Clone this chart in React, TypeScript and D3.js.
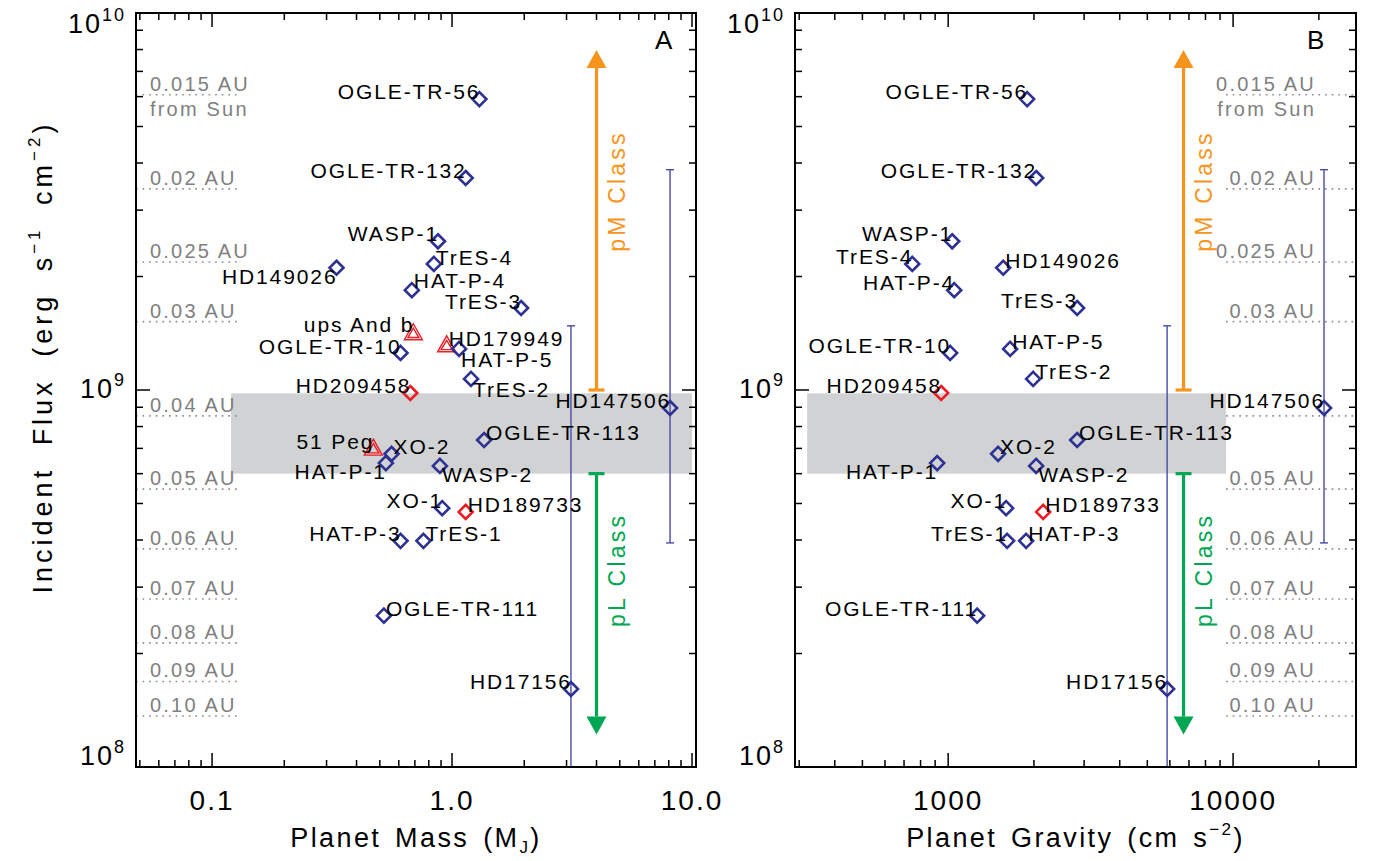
import React from "react";
import * as d3 from "d3";

// ---------- data ----------
const planetNames = [
  "OGLE-TR-56", "OGLE-TR-132", "WASP-1", "TrES-4", "HD149026", "HAT-P-4", "TrES-3",
  "ups And b", "HD179949", "HAT-P-5", "OGLE-TR-10", "TrES-2", "HD209458", "HD147506",
  "OGLE-TR-113", "51 Peg", "XO-2", "HAT-P-1", "WASP-2", "XO-1", "HD189733",
  "HAT-P-3", "TrES-1", "OGLE-TR-111", "HD17156",
];
const planetMass = [
  1.30, 1.14, 0.874, 0.84, 0.33, 0.68, 1.94,
  0.69, 0.95, 1.07, 0.61, 1.20, 0.67, 8.1,
  1.36, 0.47, 0.56, 0.53, 0.89, 0.91, 1.14,
  0.61, 0.76, 0.52, 3.13,
];
const planetGravity: (number | null)[] = [
  1893, 2036, 1033, 748, 1560, 1050, 2835,
  null, null, 1650, 1016, 1987, 945, 20850,
  2835, null, 1497, 915, 2036, 1597, 2155,
  1878, 1610, 1264, 5867,
];
const planetFlux = [
  5.91e9, 3.65e9, 2.48e9, 2.16e9, 2.11e9, 1.84e9, 1.65e9,
  1.41e9, 1.31e9, 1.285e9, 1.254e9, 1.07e9, 0.982e9, 8.96e8,
  7.37e8, 6.97e8, 6.77e8, 6.40e8, 6.29e8, 4.86e8, 4.75e8,
  3.98e8, 3.98e8, 2.52e8, 1.61e8,
];
// "d" = transiting (blue diamond), "r" = red diamond, "t" = red triangle (M sin i)
const planetMarker = [
  "d", "d", "d", "d", "d", "d", "d",
  "t", "t", "d", "d", "d", "r", "d",
  "d", "t", "d", "d", "d", "d", "r",
  "d", "d", "d", "d",
];

// flux range bars (eccentric orbits)
const barNames = ["HD147506", "HD17156"];
const barMass = [8.1, 3.13];
const barGravity = [20850, 5867];
const barLow = [3.93e8, 5e7];
const barHigh = [3.84e9, 1.48e9];

// orbital distance reference lines
const auLabels = ["0.015 AU", "0.02 AU", "0.025 AU", "0.03 AU", "0.04 AU", "0.05 AU",
  "0.06 AU", "0.07 AU", "0.08 AU", "0.09 AU", "0.10 AU"];
const auFlux = [6.07e9, 3.415e9, 2.186e9, 1.518e9, 8.54e8, 5.46e8,
  3.79e8, 2.79e8, 2.134e8, 1.686e8, 1.366e8];
// labels shown in panel B (0.04 AU hidden behind HD147506)
const auShownB = [true, true, true, true, false, true, true, true, true, true, true];

// class arrows
const classNames = ["pM Class", "pL Class"];
const classFrom = [1.0e9, 6.0e8];
const classTo = [7.98e9, 1.22e8];
const classMass = 4.0;
const classGravity = 6700;

// transition band
const bandFlux = [6.0e8, 9.8e8];
const bandMass = [0.12, 10.0];
const bandGravity = [320, 9450];

// tick labels
const yTickValues = [1e8, 1e9, 1e10];
const yTickExps = ["8", "9", "10"];
const xTickValuesA = [0.1, 1, 10];
const xTickLabelsA = ["0.1", "1.0", "10.0"];
const xTickValuesB = [1000, 10000];
const xTickLabelsB = ["1000", "10000"];

// label placement (anchor side, baseline offset)
const labelPlaceA: Record<string, [string, number]> = {
  "OGLE-TR-56": ["end", 0], "OGLE-TR-132": ["end", 0], "WASP-1": ["end", 0], "TrES-4": ["start", 1],
  "HD149026": ["end", 16], "HAT-P-4": ["start", -2], "TrES-3": ["end", 1], "ups And b": ["end", -2],
  "HD179949": ["start", 0], "HAT-P-5": ["start", 18], "OGLE-TR-10": ["end", 1], "TrES-2": ["start", 18],
  "HD209458": ["end", 0], "HD147506": ["end", 0], "OGLE-TR-113": ["start", 0], "51 Peg": ["end", 0],
  "XO-2": ["start", 0], "HAT-P-1": ["end", 16], "WASP-2": ["start", 16], "XO-1": ["end", 0],
  "HD189733": ["start", 0], "HAT-P-3": ["end", 0], "TrES-1": ["start", 0], "OGLE-TR-111": ["start", 0],
  "HD17156": ["end", 0],
};
const labelPlaceB: Record<string, [string, number]> = {
  "OGLE-TR-56": ["end", 0], "OGLE-TR-132": ["end", 0], "WASP-1": ["end", 0], "TrES-4": ["end", 0],
  "HD149026": ["start", 0], "HAT-P-4": ["end", 0], "TrES-3": ["end", 0], "OGLE-TR-10": ["end", 0],
  "HAT-P-5": ["start", 0], "TrES-2": ["start", 0], "HD209458": ["end", 0], "HD147506": ["end", 0],
  "OGLE-TR-113": ["start", 0], "XO-2": ["start", 0], "HAT-P-1": ["end", 16], "WASP-2": ["start", 16],
  "XO-1": ["end", 0], "HD189733": ["start", 0], "TrES-1": ["end", 0], "HAT-P-3": ["start", 0],
  "OGLE-TR-111": ["end", 0], "HD17156": ["end", 0],
};

// ---------- styles ----------
const FONT = "'Liberation Sans', Arial, Helvetica, sans-serif";
const BLUE = "#2e3192";
const BAR_BLUE = "#4a4aa8";
const RED = "#ed1c24";
const ORANGE = "#f7941d";
const GREEN = "#00a651";
const GREY_TXT = "#808080";
const BAND = "#d0d2d3";

const Y_TOP = 13;
const Y_BOT = 767;
const yScale = d3.scaleLog().domain([1e8, 1e10]).range([Y_BOT, Y_TOP]);

type PanelProps = {
  id: string;
  x0: number;
  x1: number;
  xScale: d3.ScaleLogarithmic<number, number>;
  xOf: (i: number) => number | null;
  barX: number[];
  classX: number;
  bandX: number[];
  xTickValues: number[];
  xTickLabels: string[];
  xTitle: React.ReactNode;
  auSide: "left" | "right";
  labelPlace: Record<string, [string, number]>;
  letter: string;
  letterX: number;
};

function Panel(p: PanelProps) {
  const { x0, x1, xScale } = p;
  const clipId = "clip" + p.id;
  const xt = xScale.ticks(30).filter((v) => v >= xScale.domain()[0] && v <= xScale.domain()[1]);
  const yt = yScale.ticks(30);
  const isMajor = (v: number) => Math.abs(Math.log10(v) - Math.round(Math.log10(v))) < 1e-6;
  const mid = (x0 + x1) / 2;

  return (
    <g>
      <defs>
        <clipPath id={clipId}>
          <rect x={x0} y={Y_TOP} width={x1 - x0} height={Y_BOT - Y_TOP} />
        </clipPath>
      </defs>
      {/* transition band */}
      <rect
        x={xScale(p.bandX[0])}
        y={yScale(bandFlux[1])}
        width={xScale(p.bandX[1]) - xScale(p.bandX[0])}
        height={yScale(bandFlux[0]) - yScale(bandFlux[1])}
        fill={BAND}
      />
      {/* AU lines */}
      {auFlux.map((f, i) => {
        const y = yScale(f);
        const left = p.auSide === "left";
        const lx0 = left ? x0 : xScale(p.bandX[1]);
        const lx1 = left ? x0 + 101 : x1;
        const tx = left ? 150 : 1316;
        const anchor = left ? "start" : "end";
        const showLabel = left || auShownB[i];
        return (
          <g key={"au" + i}>
            <line x1={lx0} x2={lx1} y1={y} y2={y} stroke="#8a8a8a" strokeWidth={1.6} strokeDasharray="1.6,5" />
            {showLabel && (
              <text x={tx} y={y - 4} fontSize={20} letterSpacing={2.2} fill={GREY_TXT} textAnchor={anchor} fontFamily={FONT}>
                {auLabels[i]}
              </text>
            )}
            {i === 0 && (
              <text x={tx} y={y + 21} fontSize={20} letterSpacing={2.2} fill={GREY_TXT} textAnchor={anchor} fontFamily={FONT}>
                from Sun
              </text>
            )}
          </g>
        );
      })}
      <g clipPath={`url(#${clipId})`}>
        {/* flux range bars */}
        {barNames.map((n, i) => {
          const x = xScale(p.barX[i]);
          const yTop = yScale(barHigh[i]);
          const yBot = yScale(barLow[i]);
          return (
            <g key={"bar" + n} stroke={BAR_BLUE} strokeWidth={1.4}>
              <line x1={x} x2={x} y1={yTop} y2={yBot} />
              <line x1={x - 4} x2={x + 4} y1={yTop} y2={yTop} />
              <line x1={x - 4} x2={x + 4} y1={yBot} y2={yBot} />
            </g>
          );
        })}
        {/* class arrows */}
        {classNames.map((c, i) => {
          const x = xScale(p.classX);
          const col = i === 0 ? ORANGE : GREEN;
          const ys = yScale(classFrom[i]);
          const ye = yScale(classTo[i]);
          const dir = ye < ys ? -1 : 1;
          const headBase = ye - dir * 18;
          const tMid = i === 0 ? 191 : 570;
          return (
            <g key={"cls" + i}>
              <line x1={x} x2={x} y1={ys} y2={headBase} stroke={col} strokeWidth={3.2} />
              <line x1={x - 8} x2={x + 8} y1={ys} y2={ys} stroke={col} strokeWidth={3.2} />
              <path d={`M${x - 10},${headBase} L${x + 10},${headBase} L${x},${ye} Z`} fill={col} />
              <text
                transform={`translate(${x + 28},${tMid}) rotate(-90)`}
                textAnchor="middle"
                fontSize={23}
                letterSpacing={3.2}
                fill={col}
                fontFamily={FONT}
              >
                {c}
              </text>
            </g>
          );
        })}
        {/* points */}
        {planetNames.map((n, i) => {
          const xv = p.xOf(i);
          if (xv == null) return null;
          const x = xScale(xv);
          const y = yScale(planetFlux[i]);
          const m = planetMarker[i];
          if (m === "t") {
            return (
              <g key={"pt" + n} fill="none" stroke={RED} strokeWidth={1.4}>
                <path d={`M${x},${y - 10} L${x + 9},${y + 6} L${x - 9},${y + 6} Z`} />
                <path d={`M${x},${y - 5.5} L${x + 5.5},${y + 3.8} L${x - 5.5},${y + 3.8} Z`} />
              </g>
            );
          }
          const r = 7;
          return (
            <path
              key={"pt" + n}
              d={`M${x},${y - r} L${x + r},${y} L${x},${y + r} L${x - r},${y} Z`}
              fill="none"
              stroke={m === "r" ? RED : BLUE}
              strokeWidth={2.6}
            />
          );
        })}
      </g>
      {/* point labels */}
      {planetNames.map((n, i) => {
        const xv = p.xOf(i);
        if (xv == null) return null;
        const place = p.labelPlace[n];
        if (!place) return null;
        const x = xScale(xv);
        const y = yScale(planetFlux[i]);
        const anchor = place[0];
        return (
          <text
            key={"lb" + n}
            x={anchor === "end" ? x + 1 : x + 2}
            y={y + place[1]}
            textAnchor={anchor}
            fontSize={21}
            letterSpacing={1.9}
            fill="#000"
            fontFamily={FONT}
          >
            {n}
          </text>
        );
      })}
      {/* frame */}
      <rect x={x0} y={Y_TOP} width={x1 - x0} height={Y_BOT - Y_TOP} fill="none" stroke="#000" strokeWidth={2} />
      {/* x ticks */}
      {xt.map((v, i) => {
        const x = xScale(v);
        const len = isMajor(v) ? 14 : 7;
        return (
          <g key={"xt" + i} stroke="#000" strokeWidth={1.5}>
            <line x1={x} x2={x} y1={Y_BOT} y2={Y_BOT - len} />
            <line x1={x} x2={x} y1={Y_TOP} y2={Y_TOP + len} />
          </g>
        );
      })}
      {/* y ticks */}
      {yt.map((v, i) => {
        const y = yScale(v);
        const len = isMajor(v) ? 14 : 7;
        return (
          <g key={"yt" + i} stroke="#000" strokeWidth={1.5}>
            <line x1={x0} x2={x0 + len} y1={y} y2={y} />
            <line x1={x1} x2={x1 - len} y1={y} y2={y} />
          </g>
        );
      })}
      {/* x tick labels */}
      {p.xTickValues.map((v, i) => (
        <text
          key={"xl" + i}
          x={xScale(v)}
          y={810}
          textAnchor="middle"
          fontSize={28}
          letterSpacing={2}
          fontFamily={FONT}
          fill="#000"
        >
          {p.xTickLabels[i]}
        </text>
      ))}
      {/* y tick labels */}
      {yTickValues.map((v, i) => {
        const y = yScale(v);
        const base = i === 2 ? y + 20 : i === 0 ? y - 2 : y + 8;
        return (
          <text key={"yl" + i} x={x0 - 10} y={base} textAnchor="end" fontSize={27} letterSpacing={2} fontFamily={FONT} fill="#000">
            10
            <tspan fontSize={18} dy={-12}>{yTickExps[i]}</tspan>
          </text>
        );
      })}
      {/* x title */}
      <text x={mid} y={847} textAnchor="middle" fontSize={27} letterSpacing={2.4} wordSpacing={4} fontFamily={FONT} fill="#000">
        {p.xTitle}
      </text>
      {/* panel letter */}
      <text x={p.letterX} y={49} fontSize={26} fontFamily={FONT} fill="#000">
        {p.letter}
      </text>
    </g>
  );
}

export default function App() {
  const xA = d3.scaleLog().domain([0.0482, 10.39]).range([136, 696]);
  const xB = d3.scaleLog().domain([290, 27000]).range([795, 1356]);
  return (
    <svg
      width={1377}
      height={861}
      viewBox="0 0 1377 861"
      style={{ position: "absolute", left: 0, top: 0, background: "#fff" }}
    >
      <rect x={0} y={0} width={1377} height={861} fill="#fff" />
      <Panel
        id="A"
        x0={136}
        x1={696}
        xScale={xA}
        xOf={(i) => planetMass[i]}
        barX={barMass}
        classX={classMass}
        bandX={bandMass}
        xTickValues={xTickValuesA}
        xTickLabels={xTickLabelsA}
        xTitle={
          <>
            Planet Mass (M<tspan fontSize={17} dy={6}>J</tspan>
            <tspan dy={-6}>)</tspan>
          </>
        }
        auSide="left"
        labelPlace={labelPlaceA}
        letter="A"
        letterX={655}
      />
      <Panel
        id="B"
        x0={795}
        x1={1356}
        xScale={xB}
        xOf={(i) => planetGravity[i]}
        barX={barGravity}
        classX={classGravity}
        bandX={bandGravity}
        xTickValues={xTickValuesB}
        xTickLabels={xTickLabelsB}
        xTitle={
          <>
            Planet Gravity (cm s<tspan fontSize={17} dy={-12}>−2</tspan>
            <tspan dy={12}>)</tspan>
          </>
        }
        auSide="right"
        labelPlace={labelPlaceB}
        letter="B"
        letterX={1307}
      />
      {/* y title */}
      <text
        transform="translate(52,357) rotate(-90)"
        textAnchor="middle"
        fontSize={27}
        letterSpacing={4}
        wordSpacing={10}
        fontFamily={FONT}
        fill="#000"
      >
        Incident Flux (erg s<tspan fontSize={17} dy={-12}>−1</tspan>
        <tspan dy={12}> cm</tspan>
        <tspan fontSize={17} dy={-12}>−2</tspan>
        <tspan dy={12}>)</tspan>
      </text>
    </svg>
  );
}
